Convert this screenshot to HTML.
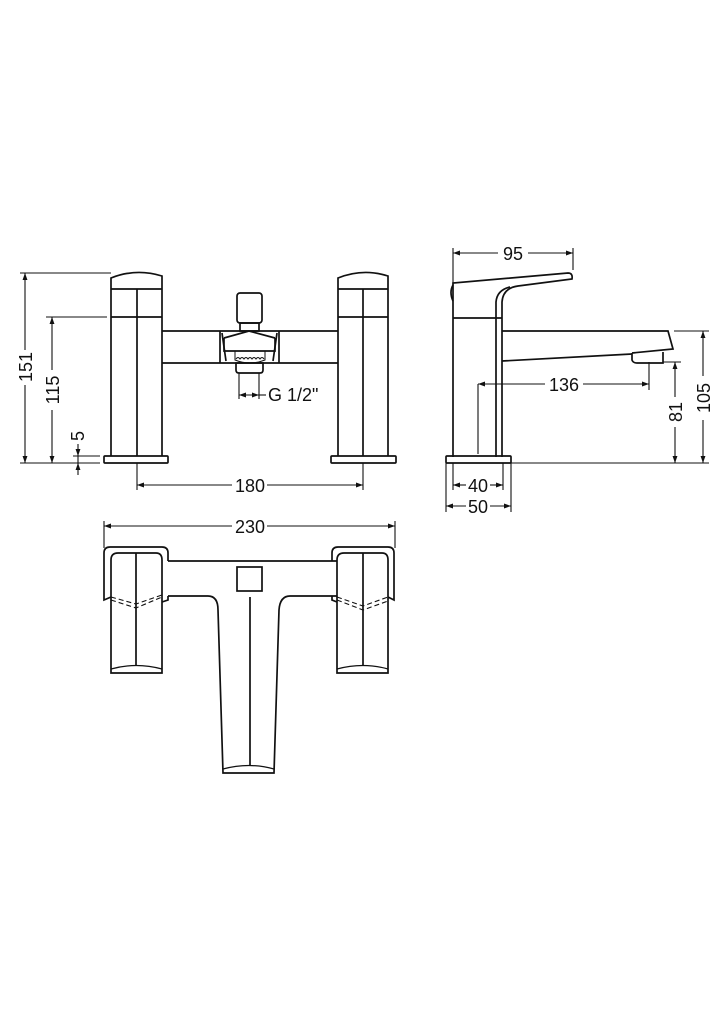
<!DOCTYPE html>
<html><head><meta charset="utf-8"><style>
html,body{margin:0;padding:0;background:#fff}
svg{display:block}
text{font-family:"Liberation Sans","DejaVu Sans",sans-serif;font-size:18px;fill:#111}
</style></head><body>
<svg width="724" height="1024" viewBox="0 0 724 1024" xmlns="http://www.w3.org/2000/svg">
<defs>
<marker id="a" viewBox="0 0 10 10" refX="10" refY="5" markerWidth="7" markerHeight="7" orient="auto-start-reverse" markerUnits="userSpaceOnUse"><path d="M0,1.5 L10,5 L0,8.5 z" fill="#111"/></marker>
</defs>
<g fill="none" stroke="#111" stroke-width="1.7">
<!-- FRONT VIEW -->
<path d="M111,456 V278 Q136,268 162,276 V456"/>
<line x1="111" y1="289" x2="162" y2="289"/>
<line x1="111" y1="317" x2="162" y2="317"/>
<line x1="137" y1="289" x2="137" y2="456"/>
<rect x="104" y="456" width="64" height="7" rx="1"/>
<path d="M338,456 V278 Q363,268 388,276 V456"/>
<line x1="338" y1="289" x2="388" y2="289"/>
<line x1="338" y1="317" x2="388" y2="317"/>
<line x1="363" y1="289" x2="363" y2="456"/>
<rect x="331" y="456" width="65" height="7" rx="1"/>
<line x1="162" y1="331" x2="338" y2="331"/>
<line x1="162" y1="363" x2="338" y2="363"/>
<rect x="237" y="293" width="25" height="30" rx="3"/>
<rect x="240" y="323" width="19" height="8"/>
<line x1="220" y1="331" x2="220" y2="363"/>
<line x1="279" y1="331" x2="279" y2="363"/>
<path d="M222,333 L226,361 M277,333 L273,361"/>
<path d="M224,338 L249,331 L275,338"/>
<path d="M224,338 V351 H275 V338"/>
<path d="M235,351 V360 Q250,366 265,360 V351" stroke-width="1"/>
<path d="M236,359 q2,-3 4,0 q2,-3 4,0 q2,-3 4,0 q2,-3 4,0 q2,-3 4,0 q2,-3 4,0 q2,-3 4,0" stroke-width="1"/>
<path d="M236,363 H263 V370 Q263,373 260,373 H239 Q236,373 236,370 Z"/>
<g stroke-width="1.1">
<line x1="239" y1="373" x2="239" y2="399"/>
<line x1="259" y1="373" x2="259" y2="399"/>
<line x1="239" y1="395" x2="259" y2="395" marker-start="url(#a)" marker-end="url(#a)"/>
<line x1="259" y1="395" x2="266" y2="395"/>
<line x1="20" y1="273" x2="111" y2="273"/>
<line x1="20" y1="463" x2="100" y2="463"/>
<line x1="25" y1="273" x2="25" y2="350" marker-start="url(#a)"/>
<line x1="25" y1="385" x2="25" y2="463" marker-end="url(#a)"/>
<line x1="46" y1="317" x2="107" y2="317"/>
<line x1="52" y1="317" x2="52" y2="370" marker-start="url(#a)"/>
<line x1="52" y1="410" x2="52" y2="463" marker-end="url(#a)"/>
<line x1="73" y1="456" x2="100" y2="456"/>
<line x1="78" y1="444" x2="78" y2="456" marker-end="url(#a)"/>
<line x1="78" y1="475" x2="78" y2="463" marker-end="url(#a)"/>
<line x1="78" y1="456" x2="78" y2="463"/>
<line x1="137" y1="463" x2="137" y2="490"/>
<line x1="363" y1="463" x2="363" y2="490"/>
<line x1="137" y1="485" x2="232" y2="485" marker-start="url(#a)"/>
<line x1="267" y1="485" x2="363" y2="485" marker-end="url(#a)"/>
</g>

<!-- SIDE VIEW -->
<path d="M453,457 V283 L568,273 Q573,273 572,279 L518,286 Q503,288 502,302 V457"/>
<path d="M496,457 V302 Q497,290 510,287"/>
<path d="M453,285 Q449,292 453,301"/>
<line x1="453" y1="318" x2="502" y2="318"/>
<path d="M502,331 H668 L673,349 L632,353 M502,361 L632,354"/>
<path d="M632,353 V360 Q633,363 637,363 H663 V352"/>
<rect x="446" y="456" width="65" height="7" rx="1"/>
<g stroke-width="1.1">
<line x1="453" y1="248" x2="453" y2="290"/>
<line x1="573" y1="248" x2="573" y2="270"/>
<line x1="453" y1="253" x2="498" y2="253" marker-start="url(#a)"/>
<line x1="528" y1="253" x2="573" y2="253" marker-end="url(#a)"/>
<line x1="478" y1="384" x2="478" y2="454"/>
<line x1="649" y1="362" x2="649" y2="390"/>
<line x1="478" y1="384" x2="545" y2="384" marker-start="url(#a)"/>
<line x1="583" y1="384" x2="649" y2="384" marker-end="url(#a)"/>
<line x1="663" y1="362" x2="681" y2="362"/>
<line x1="675" y1="362" x2="675" y2="397" marker-start="url(#a)"/>
<line x1="675" y1="427" x2="675" y2="463" marker-end="url(#a)"/>
<line x1="674" y1="331" x2="709" y2="331"/>
<line x1="511" y1="463" x2="709" y2="463"/>
<line x1="703" y1="331" x2="703" y2="376" marker-start="url(#a)"/>
<line x1="703" y1="420" x2="703" y2="463" marker-end="url(#a)"/>
<line x1="453" y1="463" x2="453" y2="490"/>
<line x1="503" y1="463" x2="503" y2="490"/>
<line x1="446" y1="463" x2="446" y2="512"/>
<line x1="511" y1="463" x2="511" y2="512"/>
<line x1="453" y1="485" x2="466" y2="485" marker-start="url(#a)"/>
<line x1="490" y1="485" x2="503" y2="485" marker-end="url(#a)"/>
<line x1="446" y1="506" x2="466" y2="506" marker-start="url(#a)"/>
<line x1="490" y1="506" x2="511" y2="506" marker-end="url(#a)"/>
</g>

<!-- TOP VIEW -->
<g stroke-width="1.1">
<line x1="104" y1="521" x2="104" y2="548"/>
<line x1="395" y1="521" x2="395" y2="548"/>
<line x1="104" y1="526" x2="232" y2="526" marker-start="url(#a)"/>
<line x1="267" y1="526" x2="395" y2="526" marker-end="url(#a)"/>
</g>
<path d="M111,597 L104,600 V553 Q104,547 110,547 H162 Q168,547 168,553 V561 M168,596 V600 L162,602"/>
<path d="M111,673 V560 Q111,553 118,553 H156 Q162,553 162,560 V673 Z"/>
<path d="M111,669 Q136,662 162,669" stroke-width="1.2"/>
<line x1="136" y1="553" x2="136" y2="666"/>
<path d="M111,600 L136,608 L162,597 M111,597 L136,604 L162,595" stroke-dasharray="5,3" stroke-width="1.1"/>
<path d="M388,597 L394,600 V553 Q394,547 388,547 H338 Q332,547 332,553 V561 M332,596 V600 L337,602"/>
<path d="M337,673 V560 Q337,553 344,553 H382 Q388,553 388,560 V673 Z"/>
<path d="M337,669 Q363,662 388,669" stroke-width="1.2"/>
<line x1="363" y1="553" x2="363" y2="666"/>
<path d="M337,597 L363,606 L388,597 M337,600 L363,610 L388,601" stroke-dasharray="5,3" stroke-width="1.1"/>
<line x1="168" y1="561" x2="337" y2="561"/>
<path d="M168,596 H208 Q218,596 218,610 L223,773 H274 L279,610 Q280,596 290,596 H337"/>
<path d="M223,769 Q249,762 274,769" stroke-width="1.2"/>
<line x1="250" y1="597" x2="250" y2="766"/>
<rect x="237" y="567" width="25" height="24"/>
</g>
<text x="268" y="401">G 1/2"</text>
<text transform="translate(32,367) rotate(-90)" text-anchor="middle">151</text>
<text transform="translate(59,390) rotate(-90)" text-anchor="middle">115</text>
<text transform="translate(84,436) rotate(-90)" text-anchor="middle">5</text>
<text x="250" y="492" text-anchor="middle">180</text>
<text x="513" y="260" text-anchor="middle">95</text>
<text x="564" y="391" text-anchor="middle">136</text>
<text transform="translate(682,412) rotate(-90)" text-anchor="middle">81</text>
<text transform="translate(710,398) rotate(-90)" text-anchor="middle">105</text>
<text x="478" y="492" text-anchor="middle">40</text>
<text x="478" y="513" text-anchor="middle">50</text>
<text x="250" y="533" text-anchor="middle">230</text>
</svg>
</body></html>
